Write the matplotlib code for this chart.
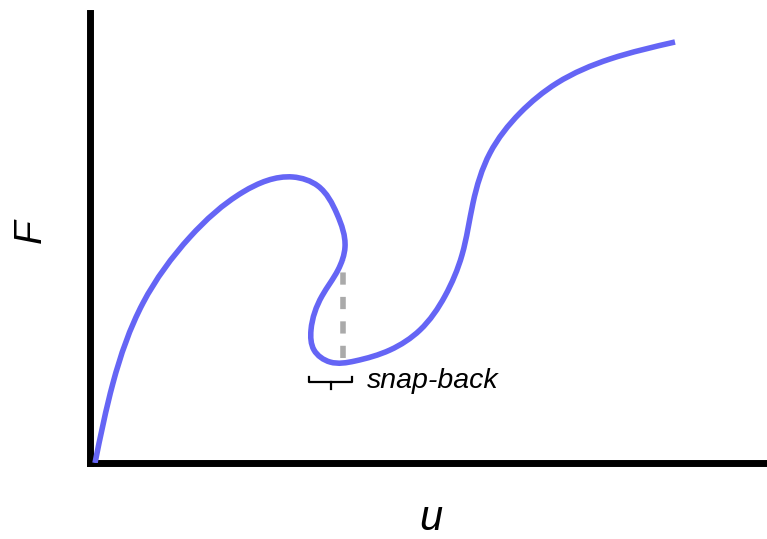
import numpy as np
import matplotlib
matplotlib.use('Agg')
import matplotlib.pyplot as plt
from matplotlib.path import Path
from matplotlib.patches import PathPatch

plt.rcParams['font.family'] = ['Liberation Sans', 'DejaVu Sans']

# points
u_pts = [0.05, 0.23, 0.53, 1.00, 1.53, 2.03, 2.28, 2.47, 2.55, 2.48,
         2.32, 2.21, 2.24, 2.40, 2.65, 3.00, 3.30, 3.55, 3.72, 3.83,
         4.00, 4.30, 4.67, 5.20, 5.85]
F_pts = [0.00, 0.80, 1.60, 2.26, 2.71, 2.86, 2.77, 2.49, 2.16, 1.93,
         1.67, 1.33, 1.13, 1.01, 1.02, 1.13, 1.33, 1.67, 2.08, 2.60,
         3.10, 3.50, 3.80, 4.04, 4.21]

# snap-back marker
snap_u = 2.53
snap_F = [1.05, 2.03]
brace_u = [2.19, 2.62]
brace_F = 0.81
snap_label = 'snap-back'


def smooth_path(xs, ys):
    # natural cubic spline over chord length, written as Bezier segments
    p = np.column_stack([xs, ys])
    h = np.hypot(*np.diff(p, axis=0).T)
    n = len(p)
    A = np.zeros((n, n))
    r = np.zeros((n, 2))
    A[0, 0] = A[-1, -1] = 1
    for i in range(1, n - 1):
        A[i, i - 1] = h[i - 1]
        A[i, i] = 2 * (h[i - 1] + h[i])
        A[i, i + 1] = h[i]
        r[i] = 6 * ((p[i + 1] - p[i]) / h[i] - (p[i] - p[i - 1]) / h[i - 1])
    M = np.linalg.solve(A, r)
    verts = [p[0]]
    codes = [Path.MOVETO]
    for i in range(n - 1):
        s = (p[i + 1] - p[i]) / h[i]
        d0 = s - h[i] * (2 * M[i] + M[i + 1]) / 6
        d1 = s + h[i] * (M[i] + 2 * M[i + 1]) / 6
        verts += [p[i] + d0 * h[i] / 3, p[i + 1] - d1 * h[i] / 3, p[i + 1]]
        codes += [Path.CURVE4] * 3
    return Path(verts, codes)


fig = plt.figure(figsize=(7.67, 5.39), dpi=100)
ax = fig.add_axes([90 / 767, 76 / 539, 677 / 767, 450 / 539])

ax.add_patch(PathPatch(smooth_path(u_pts, F_pts), fill=False,
                       edgecolor='#6565f5', lw=4, capstyle='butt', zorder=3))

ax.plot([snap_u, snap_u], snap_F, color='#aaaaaa', lw=4, dashes=(2.2, 2.2), zorder=2)

mid = (brace_u[0] + brace_u[1]) / 2
ax.plot([brace_u[0], brace_u[0], brace_u[1], brace_u[1]],
        [brace_F + 0.05, brace_F, brace_F, brace_F + 0.05], color='black', lw=1.6)
ax.plot([mid, mid], [brace_F, brace_F - 0.07], color='black', lw=1.6)
ax.text(brace_u[1] + 0.15, brace_F - 0.06, snap_label, fontsize=20.5, style='italic',
        ha='left', va='baseline')

ax.set_xlim(0, 6.77)
ax.set_ylim(0, 4.50)
for s in ['top', 'right']:
    ax.spines[s].set_visible(False)
for s in ['left', 'bottom']:
    ax.spines[s].set_linewidth(5)
ax.set_xticks([])
ax.set_yticks([])

ax.text(0.504, -0.148, 'u', transform=ax.transAxes, fontsize=30, style='italic',
        ha='center', va='baseline')
ax.text(-0.087, 0.515, 'F', transform=ax.transAxes, fontsize=28, style='italic',
        rotation=90, ha='center', va='center')

fig.savefig('out.png', dpi=100)
